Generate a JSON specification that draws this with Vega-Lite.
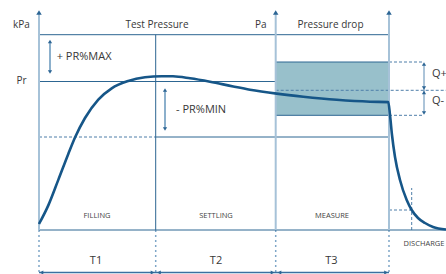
{
  "$schema": "https://vega.github.io/schema/vega-lite/v6.json",
  "width": 446,
  "height": 274,
  "autosize": {"type": "none"},
  "padding": 0,
  "background": "#ffffff",
  "config": {"view": {"stroke": null}, "font": "Open Sans"},
  "datasets": {
    "box": [{"x": 236.7, "y": 114.7, "x2": 350, "y2": 168}],
    "guides": [
      {"x": 0, "y": 0, "x2": 0, "y2": -42.5},
      {"x": 116.7, "y": 0, "x2": 116.7, "y2": -42.5},
      {"x": 236.7, "y": 0, "x2": 236.7, "y2": -42.5},
      {"x": 350, "y": 0, "x2": 350, "y2": -42.5}
    ],
    "dashed": [
      {"x": 0, "y": 93, "x2": 116.7, "y2": 93},
      {"x": 236.7, "y": 139.7, "x2": 407, "y2": 139.7},
      {"x": 350, "y": 168, "x2": 385, "y2": 168},
      {"x": 350, "y": 114.7, "x2": 385, "y2": 114.7},
      {"x": 372.7, "y": 0, "x2": 372.7, "y2": 42},
      {"x": 350, "y": 20, "x2": 372.7, "y2": 20}
    ],
    "thin": [
      {"x": 0, "y": 195.3, "x2": 350, "y2": 195.3},
      {"x": 0, "y": 148.5, "x2": 236.7, "y2": 148.5},
      {"x": 116.7, "y": 93, "x2": 350, "y2": 93},
      {"x": 116.7, "y": 0, "x2": 116.7, "y2": 195.3},
      {"x": 0, "y": 0, "x2": 407, "y2": 0},
      {"x": 236.7, "y": 168, "x2": 350, "y2": 168},
      {"x": 236.7, "y": 114.7, "x2": 350, "y2": 114.7}
    ],
    "axes": [
      {"x": 0, "y": 0, "x2": 0, "y2": 217},
      {"x": 236.7, "y": 0, "x2": 236.7, "y2": 217},
      {"x": 350, "y": 0, "x2": 350, "y2": 217}
    ],
    "shafts": [
      {"x": 11, "y": 158, "x2": 11, "y2": 188.5},
      {"x": 126, "y": 101, "x2": 126, "y2": 140}
    ],
    "qshaft": [{"x": 385, "y": 117, "x2": 385, "y2": 166}],
    "tshaft": [{"x": 0, "y": -42.5, "x2": 350, "y2": -42.5}],
    "curve": [
      {"x": 0, "y": 6},
      {"x": 9.3, "y": 24.6},
      {"x": 19.3, "y": 50.1},
      {"x": 29.3, "y": 76.1},
      {"x": 36, "y": 92.5},
      {"x": 46, "y": 112},
      {"x": 59.3, "y": 130.4},
      {"x": 72.7, "y": 141.7},
      {"x": 89.3, "y": 149},
      {"x": 106, "y": 152.7},
      {"x": 122.7, "y": 153.8},
      {"x": 134, "y": 153.7},
      {"x": 151, "y": 151.7},
      {"x": 171, "y": 148.3},
      {"x": 194.3, "y": 143.5},
      {"x": 211, "y": 140.3},
      {"x": 237.7, "y": 136.4},
      {"x": 264.3, "y": 133.3},
      {"x": 297.7, "y": 130.2},
      {"x": 331, "y": 128.3},
      {"x": 349.3, "y": 127.9},
      {"x": 351, "y": 115},
      {"x": 353, "y": 95},
      {"x": 356, "y": 73},
      {"x": 361, "y": 50},
      {"x": 367.7, "y": 30},
      {"x": 372.7, "y": 20},
      {"x": 379, "y": 12},
      {"x": 386, "y": 7},
      {"x": 394, "y": 3},
      {"x": 407, "y": 0.5}
    ],
    "heads": [
      {"x": 0, "y": 217.5, "dir": "up", "kind": "axis"},
      {"x": 236.7, "y": 217.5, "dir": "up", "kind": "axis"},
      {"x": 350, "y": 217.5, "dir": "up", "kind": "axis"},
      {"x": 11, "y": 188.5, "dir": "up", "kind": "small"},
      {"x": 11, "y": 158, "dir": "down", "kind": "small"},
      {"x": 126, "y": 140, "dir": "up", "kind": "small"},
      {"x": 126, "y": 101, "dir": "down", "kind": "small"},
      {"x": 385, "y": 166, "dir": "up", "kind": "small"},
      {"x": 385, "y": 142, "dir": "down", "kind": "small"},
      {"x": 385, "y": 137.5, "dir": "up", "kind": "small"},
      {"x": 385, "y": 117, "dir": "down", "kind": "small"},
      {"x": 2.5, "y": -42.5, "dir": "left", "kind": "small"},
      {"x": 113.5, "y": -42.5, "dir": "right", "kind": "small"},
      {"x": 120, "y": -42.5, "dir": "left", "kind": "small"},
      {"x": 233.5, "y": -42.5, "dir": "right", "kind": "small"},
      {"x": 240.5, "y": -42.5, "dir": "left", "kind": "small"},
      {"x": 347, "y": -42.5, "dir": "right", "kind": "small"}
    ],
    "labelsCenter": [
      {"x": -17.5, "y": 205.5, "text": "kPa"},
      {"x": 118, "y": 205.5, "text": "Test Pressure"},
      {"x": 221.7, "y": 205.5, "text": "Pa"},
      {"x": 291.5, "y": 205.5, "text": "Pressure drop"},
      {"x": -17.5, "y": 149, "text": "Pr"}
    ],
    "labelsT": [
      {"x": 57, "y": -31, "text": "T1"},
      {"x": 177, "y": -31, "text": "T2"},
      {"x": 292.3, "y": -31, "text": "T3"}
    ],
    "labelsLeft": [
      {"x": 17.7, "y": 173, "text": "+ PR%MAX"},
      {"x": 137, "y": 120, "text": "- PR%MIN"},
      {"x": 393, "y": 156.5, "text": "Q+"},
      {"x": 393, "y": 129.5, "text": "Q-"}
    ],
    "labelsSmall": [
      {"x": 58, "y": 14, "text": "FILLING"},
      {"x": 177, "y": 14, "text": "SETTLING"},
      {"x": 293, "y": 14, "text": "MEASURE"},
      {"x": 385, "y": -14.3, "text": "DISCHARGE"}
    ]
  },
  "encoding": {
    "x": {"field": "x", "type": "quantitative", "scale": {"domain": [-39, 407], "nice": false, "zero": false}, "axis": null},
    "y": {"field": "y", "type": "quantitative", "scale": {"domain": [-44, 230], "nice": false, "zero": false}, "axis": null}
  },
  "layer": [
    {
      "data": {"values": [{"k": 1}]},
      "mark": {"type": "rect", "fill": {"gradient": "radial", "x1": 0, "y1": 0, "x2": 0, "y2": 0, "r1": 0, "r2": 0.6, "stops": [{"offset": 0, "color": "#e8edf1"}, {"offset": 1, "color": "#ffffff"}]}},
      "encoding": {
        "x": {"datum": -39, "type": "quantitative"},
        "x2": {"datum": 407},
        "y": {"datum": -44, "type": "quantitative"},
        "y2": {"datum": 230}
      }
    },
    {
      "data": {"name": "box"},
      "mark": {"type": "rect", "fill": "#98c0cb", "stroke": null},
      "encoding": {"x2": {"field": "x2"}, "y2": {"field": "y2"}}
    },
    {
      "data": {"name": "guides"},
      "mark": {"type": "rule", "color": "#7fa6c8", "strokeWidth": 1.5, "strokeDash": [2, 3]},
      "encoding": {"x2": {"field": "x2"}, "y2": {"field": "y2"}}
    },
    {
      "data": {"name": "dashed"},
      "mark": {"type": "rule", "color": "#4f7fa9", "strokeWidth": 1, "strokeDash": [3, 2]},
      "encoding": {"x2": {"field": "x2"}, "y2": {"field": "y2"}}
    },
    {
      "data": {"name": "thin"},
      "mark": {"type": "rule", "color": "#2d6692", "strokeWidth": 1},
      "encoding": {"x2": {"field": "x2"}, "y2": {"field": "y2"}}
    },
    {
      "data": {"name": "axes"},
      "mark": {"type": "rule", "color": "#a6c2d8", "strokeWidth": 2},
      "encoding": {"x2": {"field": "x2"}, "y2": {"field": "y2"}}
    },
    {
      "data": {"name": "shafts"},
      "mark": {"type": "rule", "color": "#8cb0cc", "strokeWidth": 2},
      "encoding": {"x2": {"field": "x2"}, "y2": {"field": "y2"}}
    },
    {
      "data": {"name": "qshaft"},
      "mark": {"type": "rule", "color": "#5b8ab3", "strokeWidth": 1},
      "encoding": {"x2": {"field": "x2"}, "y2": {"field": "y2"}}
    },
    {
      "data": {"name": "tshaft"},
      "mark": {"type": "rule", "color": "#3a70a0", "strokeWidth": 1.5},
      "encoding": {"x2": {"field": "x2"}, "y2": {"field": "y2"}}
    },
    {
      "data": {"name": "curve"},
      "mark": {"type": "line", "color": "#165688", "strokeWidth": 2.6, "interpolate": "monotone"},
      "encoding": {}
    },
    {
      "data": {"name": "heads"},
      "mark": {"type": "point", "filled": true, "opacity": 1, "color": "#2c6594"},
      "encoding": {
        "shape": {"field": "dir", "type": "nominal", "scale": {"domain": ["up", "down", "left", "right"], "range": ["triangle-up", "triangle-down", "triangle-left", "triangle-right"]}, "legend": null},
        "size": {"field": "kind", "type": "nominal", "scale": {"domain": ["axis", "small"], "range": [30, 18]}, "legend": null}
      }
    },
    {
      "data": {"name": "labelsCenter"},
      "mark": {"type": "text", "fontSize": 10, "color": "#383838", "align": "center", "baseline": "middle"},
      "encoding": {"text": {"field": "text"}}
    },
    {
      "data": {"name": "labelsT"},
      "mark": {"type": "text", "fontSize": 11, "color": "#383838", "align": "center", "baseline": "middle"},
      "encoding": {"text": {"field": "text"}}
    },
    {
      "data": {"name": "labelsLeft"},
      "mark": {"type": "text", "fontSize": 11, "color": "#383838", "align": "left", "baseline": "middle"},
      "encoding": {"text": {"field": "text"}}
    },
    {
      "data": {"name": "labelsSmall"},
      "mark": {"type": "text", "fontSize": 7.5, "color": "#444444", "align": "center", "baseline": "middle"},
      "encoding": {"text": {"field": "text"}}
    }
  ]
}
